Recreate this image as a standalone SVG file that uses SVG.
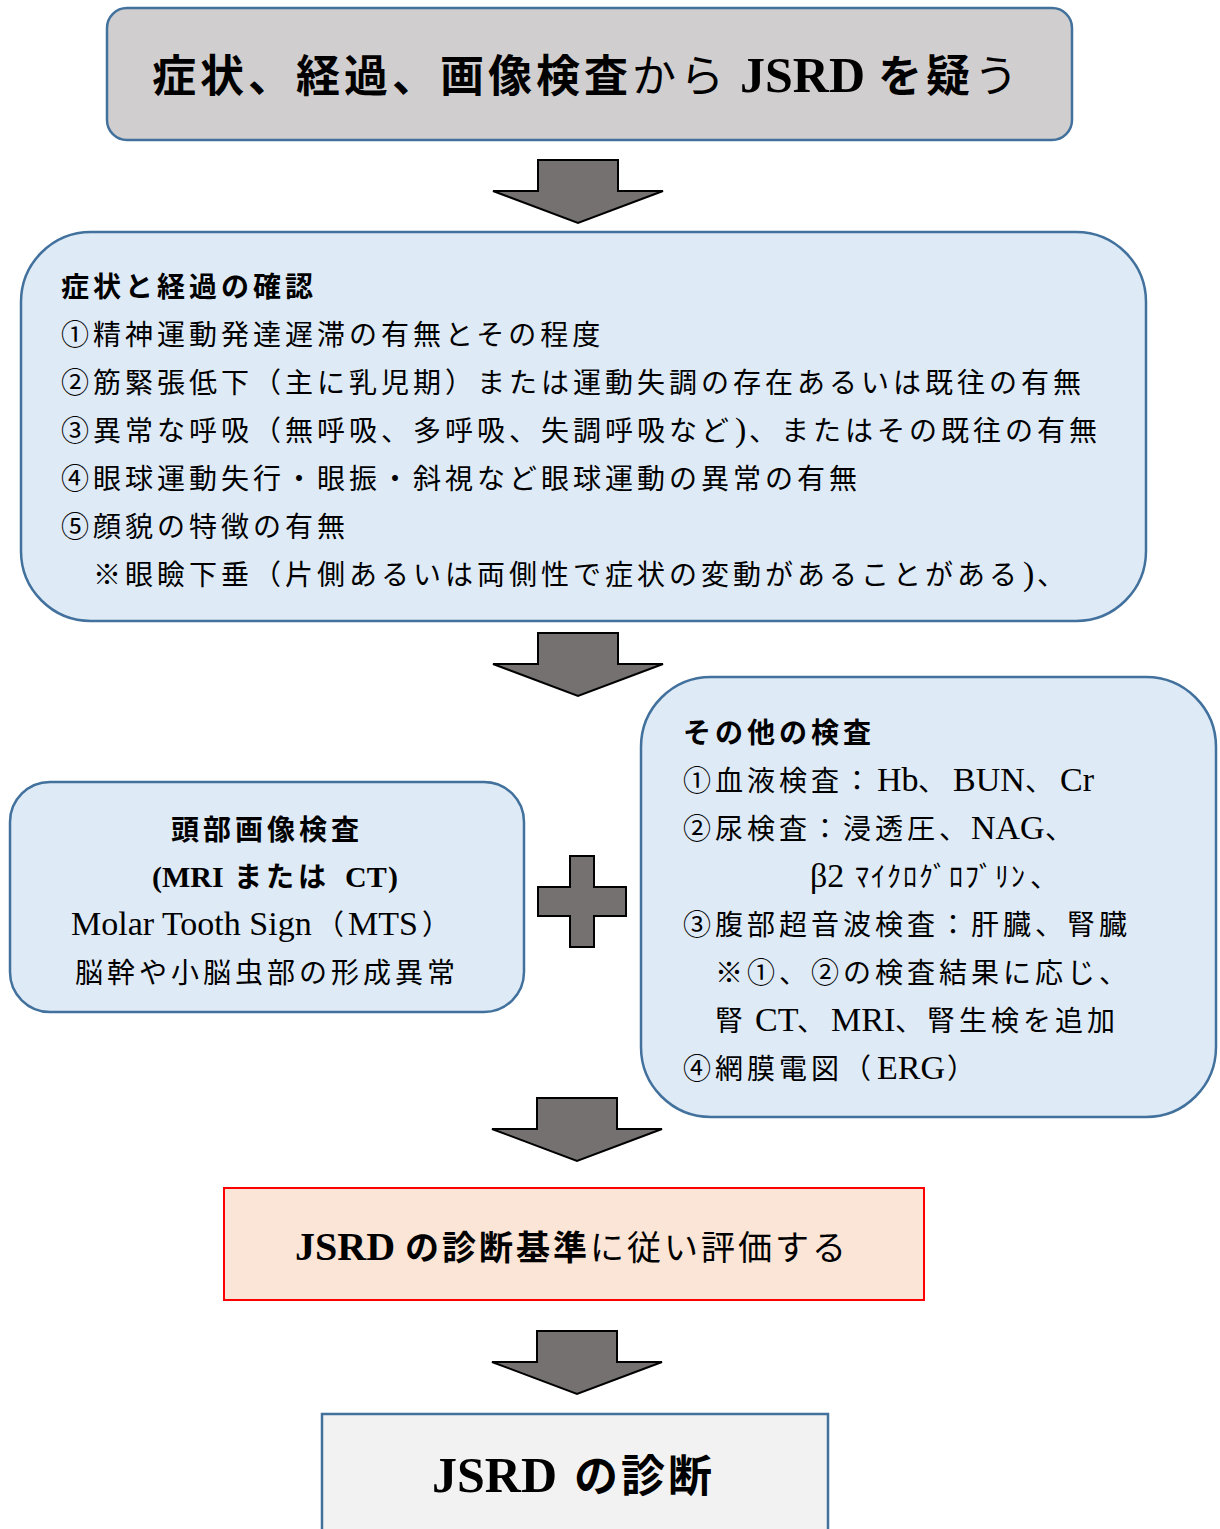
<svg xmlns="http://www.w3.org/2000/svg" width="1220" height="1529" viewBox="0 0 1220 1529">
<style>
text{font-family:"Liberation Serif","Noto Sans CJK JP",serif;fill:#000}
.box{fill:#deeaf6;stroke:#41719c;stroke-width:2.5}
.t{font-size:28px;letter-spacing:4px}
.L{font-size:34px;letter-spacing:0}
.LB{font-size:30px;letter-spacing:0;font-weight:bold}
.b{font-weight:bold}
.n{font-weight:normal}
.arr{fill:#767171;stroke:#000;stroke-width:2}
</style>
<defs>
<path id="arrow" d="M-40,0 H40 V31 H85 L0,63 L-85,31 H-40 Z"/>
</defs>
<rect width="1220" height="1529" fill="#fff"/>

<g id="connectors">
<use href="#arrow" class="arr" x="578" y="160"/>
<use href="#arrow" class="arr" x="578" y="633"/>
<use href="#arrow" class="arr" x="577" y="1098"/>
<use href="#arrow" class="arr" x="577" y="1331"/>
<path class="arr" d="M570,856 H594 V887 H626 V916 H594 V947 H570 V916 H538 V887 H570 Z"/>
</g>

<g id="node-suspect">
<rect x="107" y="8" width="965" height="132" rx="20" fill="#d0cece" stroke="#41719c" stroke-width="2.5"/>
<text y="92" font-size="44" letter-spacing="4"><tspan class="b" x="152">症状、経過、画像検査</tspan><tspan class="n">から</tspan><tspan class="b" x="740" font-size="50" letter-spacing="0">JSRD</tspan><tspan class="b" x="878">を疑</tspan><tspan class="n">う</tspan></text>
</g>

<g id="node-symptoms">
<rect class="box" x="21" y="232" width="1125" height="389" rx="70"/>
<text class="t b" x="61" y="297">症状と経過の確認</text>
<text class="t" x="61" y="345">①精神運動発達遅滞の有無とその程度</text>
<text class="t" x="61" y="393">②筋緊張低下（主に乳児期）または運動失調の存在あるいは既往の有無</text>
<text class="t" y="441"><tspan x="61">③異常な呼吸（無呼吸、多呼吸、失調呼吸など</tspan><tspan class="L" x="735">)</tspan><tspan x="749">、またはその既往の有無</tspan></text>
<text class="t" x="61" y="489">④眼球運動失行・眼振・斜視など眼球運動の異常の有無</text>
<text class="t" x="61" y="537">⑤顔貌の特徴の有無</text>
<text class="t" y="585"><tspan x="93">※眼瞼下垂（片側あるいは両側性で症状の変動があることがある</tspan><tspan class="L" x="1023">)</tspan><tspan x="1037">、</tspan></text>
</g>

<g id="node-imaging">
<rect class="box" x="10" y="782" width="514" height="230" rx="40"/>
<text class="t b" x="171" y="840">頭部画像検査</text>
<text class="t b" y="887"><tspan class="LB" x="152">(</tspan><tspan class="LB" x="162">MRI</tspan><tspan x="234">または</tspan><tspan class="LB" x="345">CT</tspan><tspan class="LB" x="388">)</tspan></text>
<text class="t" y="935"><tspan class="L" x="71">Molar Tooth Sign</tspan><tspan x="316">（</tspan><tspan class="L" x="348">MTS</tspan><tspan x="422">）</tspan></text>
<text class="t" x="75" y="983">脳幹や小脳虫部の形成異常</text>
</g>

<g id="node-other-tests">
<rect class="box" x="641" y="677" width="575" height="440" rx="70"/>
<text class="t b" x="683" y="743">その他の検査</text>
<text class="t" y="791"><tspan x="683">①血液検査：</tspan><tspan class="L" x="877">Hb</tspan><tspan x="918">、</tspan><tspan class="L" x="953">BUN</tspan><tspan x="1025">、</tspan><tspan class="L" x="1060">Cr</tspan></text>
<text class="t" y="839"><tspan x="683">②尿検査：浸透圧、</tspan><tspan class="L" x="971">NAG</tspan><tspan x="1045">、</tspan></text>
<text class="t" y="887"><tspan class="L" x="810">β2</tspan><tspan x="855" letter-spacing="2">ﾏｲｸﾛｸﾞﾛﾌﾞﾘﾝ</tspan><tspan x="1030">、</tspan></text>
<text class="t" x="683" y="935">③腹部超音波検査：肝臓、腎臓</text>
<text class="t" x="715" y="983">※①、②の検査結果に応じ、</text>
<text class="t" y="1031"><tspan x="715">腎</tspan><tspan class="L" x="755">CT</tspan><tspan x="797">、</tspan><tspan class="L" x="831">MRI</tspan><tspan x="895">、腎生検を追加</tspan></text>
<text class="t" y="1079"><tspan x="683">④網膜電図（</tspan><tspan class="L" x="877">ERG</tspan><tspan x="947">）</tspan></text>
</g>

<g id="node-criteria">
<rect x="224" y="1188" width="700" height="112" fill="#fbe5d6" stroke="#ff0000" stroke-width="2"/>
<text y="1260" font-size="34" letter-spacing="3"><tspan class="b" x="295" font-size="40" letter-spacing="0">JSRD</tspan><tspan class="b" x="405">の診断基準</tspan><tspan class="n">に従い評価する</tspan></text>
</g>

<g id="node-diagnosis">
<rect x="322" y="1414" width="506" height="130" fill="#f2f2f2" stroke="#41719c" stroke-width="2.5"/>
<text class="b" y="1492"><tspan x="432" font-size="50">JSRD</tspan><tspan x="574" font-size="44" letter-spacing="3">の診断</tspan></text>
</g>
</svg>
